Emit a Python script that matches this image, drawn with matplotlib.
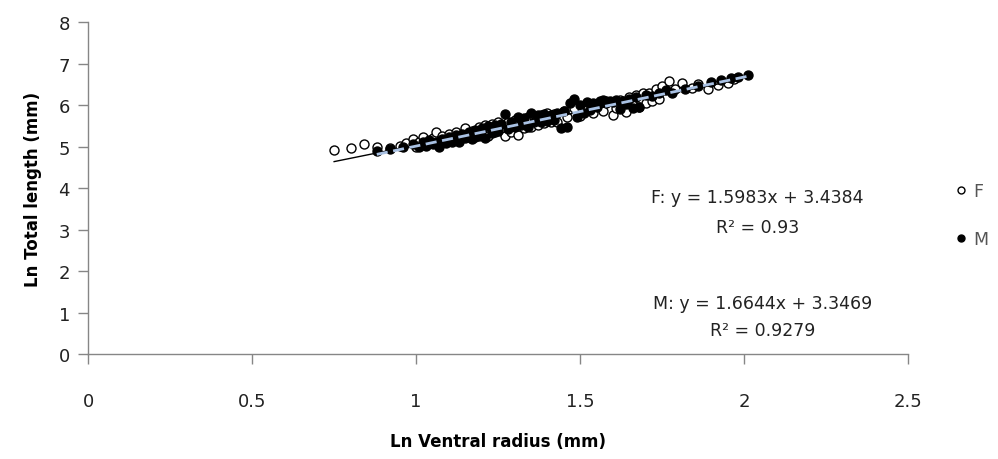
import matplotlib
matplotlib.use("Agg")
import matplotlib.pyplot as plt
from matplotlib.lines import Line2D

plt.rcParams['font.family'] = ['DejaVu Sans']

# ---- data ----
F_x = [0.75,0.80,0.84,0.88,0.92,0.95,0.97,0.99,1.00,1.01,1.02,1.03,1.05,1.06,1.07,1.08,1.09,1.10,1.11,1.12,
       1.13,1.15,1.16,1.17,1.18,1.19,1.20,1.21,1.22,1.23,1.24,1.25,1.26,1.27,1.28,1.29,1.30,1.31,1.32,1.33,
       1.34,1.35,1.36,1.37,1.38,1.39,1.40,1.41,1.42,1.43,1.45,1.46,1.48,1.50,1.52,1.54,1.55,1.57,1.58,1.60,
       1.61,1.62,1.63,1.64,1.65,1.66,1.67,1.68,1.69,1.70,1.71,1.72,1.73,1.74,1.75,1.77,1.79,1.81,1.84,1.86,
       1.89,1.92,1.95,1.97]
F_y = [4.92,4.96,5.05,4.99,4.97,5.02,5.08,5.19,4.98,5.10,5.22,5.03,5.20,5.36,5.06,5.25,5.10,5.30,5.16,5.35,
       5.18,5.44,5.22,5.38,5.24,5.47,5.30,5.52,5.26,5.55,5.35,5.60,5.38,5.25,5.60,5.34,5.64,5.28,5.66,5.45,
       5.72,5.48,5.70,5.52,5.77,5.56,5.80,5.60,5.78,5.60,5.85,5.70,5.92,5.74,5.98,5.80,6.02,5.86,6.10,5.76,
       5.92,6.12,5.95,5.84,6.20,6.00,6.25,5.96,6.28,6.05,6.30,6.10,6.38,6.15,6.45,6.58,6.38,6.52,6.40,6.50,
       6.38,6.48,6.52,6.62]

M_x = [0.88,0.92,0.96,0.99,1.01,1.02,1.03,1.04,1.05,1.06,1.07,1.08,1.09,1.10,1.11,1.12,1.13,1.14,1.15,1.16,
       1.17,1.18,1.19,1.20,1.21,1.22,1.23,1.24,1.25,1.26,1.27,1.28,1.29,1.30,1.31,1.32,1.33,1.34,1.35,1.36,
       1.37,1.38,1.39,1.40,1.41,1.42,1.43,1.44,1.45,1.46,1.47,1.48,1.49,1.50,1.51,1.52,1.53,1.54,1.55,1.56,
       1.57,1.58,1.59,1.60,1.61,1.62,1.63,1.64,1.65,1.66,1.67,1.68,1.70,1.72,1.74,1.76,1.78,1.82,1.86,1.90,
       1.93,1.96,1.98,2.01]
M_y = [4.90,4.95,5.00,5.05,5.00,5.10,5.02,5.15,5.05,5.12,5.00,5.18,5.08,5.22,5.12,5.28,5.10,5.30,5.20,5.35,
       5.18,5.40,5.25,5.45,5.20,5.50,5.32,5.52,5.38,5.55,5.78,5.42,5.60,5.48,5.72,5.52,5.68,5.46,5.80,5.58,
       5.75,5.60,5.78,5.62,5.75,5.65,5.80,5.45,5.85,5.48,6.05,6.15,5.70,6.00,5.82,6.08,5.88,6.05,5.95,6.10,
       6.12,6.05,6.10,6.08,6.12,5.90,6.10,6.02,6.15,5.92,6.20,5.95,6.25,6.22,6.28,6.35,6.30,6.38,6.45,6.55,
       6.60,6.65,6.68,6.72]

F_slope, F_icpt, F_r2 = 1.5983, 3.4384, "0.93"
M_slope, M_icpt, M_r2 = 1.6644, 3.3469, "0.9279"

x_ticks = [0, 0.5, 1, 1.5, 2, 2.5]
x_ticklabels = ["0", "0.5", "1", "1.5", "2", "2.5"]
y_ticks = [0, 1, 2, 3, 4, 5, 6, 7, 8]

# ---- figure ----
fig = plt.figure(figsize=(9.98, 4.6), dpi=100)
ax = fig.add_axes([0.0882, 0.228, 0.822, 0.722])

ax.scatter(F_x, F_y, s=42, facecolors='white', edgecolors='black', linewidths=1.0, zorder=3)
ax.scatter(M_x, M_y, s=42, facecolors='black', edgecolors='black', linewidths=1.0, zorder=3)

fx = [min(F_x), max(F_x)]
ax.plot(fx, [F_slope * v + F_icpt for v in fx], color='black', lw=1.0, zorder=4)
mx = [min(M_x), max(M_x)]
ax.plot(mx, [M_slope * v + M_icpt for v in mx], color='#a9c1e3', lw=2.0,
        dashes=(4, 2), zorder=5)

ax.set_xlim(0, 2.5)
ax.set_ylim(0, 8)
ax.set_xticks(x_ticks)
ax.set_xticklabels(x_ticklabels)
ax.set_yticks(y_ticks)

for s in ['top', 'right']:
    ax.spines[s].set_visible(False)
for s in ['left', 'bottom']:
    ax.spines[s].set_color('#868686')
    ax.spines[s].set_linewidth(1.0)
ax.tick_params(axis='both', direction='out', length=7, width=1.0, color='#868686',
               labelsize=13, labelcolor='#222222')
ax.tick_params(axis='x', pad=20)
ax.tick_params(axis='y', pad=6)

ax.set_xlabel("Ln Ventral radius (mm)", fontsize=12, fontweight='bold', labelpad=16)
ax.set_ylabel("Ln Total length (mm)", fontsize=12, fontweight='bold', labelpad=12)

# equations
eq_kw = dict(ha='center', va='center', fontsize=12.5, color='#222222')
ax.text(2.04, 3.78, f"F: y = {F_slope}x + {F_icpt}", **eq_kw)
ax.text(2.04, 3.06, f"R² = {F_r2}", **eq_kw)
ax.text(2.055, 1.24, f"M: y = {M_slope}x + {M_icpt}", **eq_kw)
ax.text(2.055, 0.59, f"R² = {M_r2}", **eq_kw)

handles = [Line2D([], [], marker='o', ls='none', markerfacecolor='white', markeredgecolor='black', markersize=5),
           Line2D([], [], marker='o', ls='none', markerfacecolor='black', markeredgecolor='black', markersize=5)]
fig.legend(handles, ["F", "M"], loc='center left', bbox_to_anchor=(0.94, 0.53), frameon=False,
           fontsize=12.5, labelspacing=1.75, handletextpad=0.35, handlelength=0.8, labelcolor='#555555')

fig.savefig("out.png", dpi=100)
